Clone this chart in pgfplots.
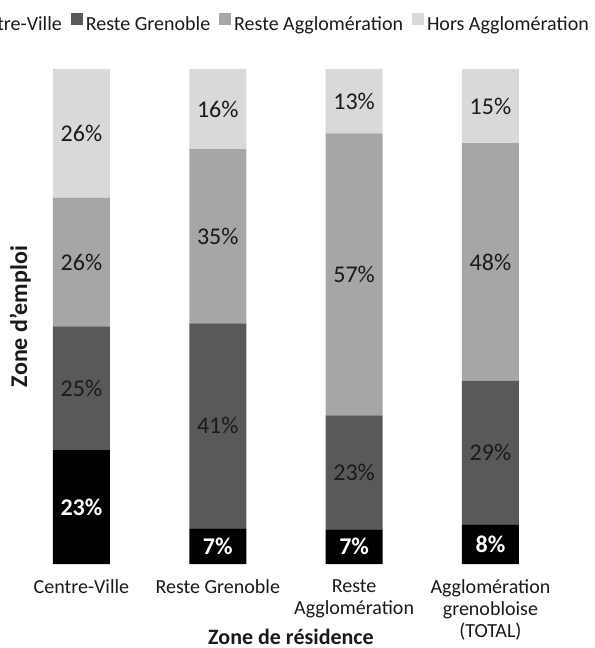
\documentclass[border=0pt]{standalone}
\usepackage{pgfplots}
\pgfplotsset{compat=1.18}
\usepackage{pgfplotstable}
\usepackage{fontspec}
\setmainfont{Carlito}
\definecolor{cCV}{HTML}{000000}
\definecolor{cRG}{HTML}{595959}
\definecolor{cRA}{HTML}{A6A6A6}
\definecolor{cHA}{HTML}{D9D9D9}
\definecolor{txt}{HTML}{1A1A1A}
\pgfplotstableread{
x cv rg ra ha
0 23 25 26 26
1 7.2 41.4 35.2 16.2
2 7 23 57 13
3 8 29 48 15
}\data
\pgfplotsset{
  seglabel/.style={
    nodes near coords={\pgfmathprintnumber[fixed,precision=0,assume math mode=true]{\pgfplotspointmeta}\%},
    every node near coord/.append style={anchor=center,
      font=\fontsize{24bp}{28bp}\selectfont, text=txt, inner sep=0pt},
  },
  sq legend/.style={legend image code/.code={\fill[##1] (0bp,-1bp) rectangle (12bp,11bp);}},
}
\begin{document}
\begin{tikzpicture}
\begin{axis}[
  name=ax,
  scale only axis,
  width=545.3bp, height=495bp,
  ybar stacked,
  bar width=57bp,
  xmin=-0.5, xmax=3.5, ymin=0, ymax=100,
  axis line style={draw=none},
  major tick length=0pt,
  ytick=\empty,
  xtick={0,1,2,3},
  xticklabels={Centre-Ville, Reste Grenoble, {Reste\\Agglomération}, {Agglomération\\grenobloise\\(TOTAL)}},
  xticklabel style={align=center, font=\fontsize{20bp}{22bp}\selectfont, text=txt, anchor=north, yshift=-12bp},
  xlabel={Zone de résidence},
  xlabel style={font=\fontsize{22bp}{24bp}\selectfont\bfseries, text=txt, at={(axis description cs:0.5,0)}, anchor=base, xshift=5bp, yshift=-80.5bp},
  ylabel={Zone d'emploi},
  ylabel style={font=\fontsize{24bp}{26bp}\selectfont\bfseries, text=txt, at={(axis description cs:0.0130,0.5)}, anchor=center},
  legend columns=4,
  legend style={draw=none, fill=none, at={(axis description cs:1.0576,1.0919)}, anchor=east,
    font=\fontsize{20bp}{22bp}\selectfont, text=txt, inner sep=0pt,
    nodes={inner xsep=1bp},
    /tikz/every odd column/.append style={column sep=2bp},
    /tikz/every even column/.append style={column sep=8bp}},
]
\addplot[fill=cCV, draw=none, sq legend, seglabel,
  every node near coord/.append style={text=white, font=\fontsize{24bp}{28bp}\selectfont\bfseries}]
  table[x=x, y=cv, meta=cv] {\data};
\addlegendentry{Centre-Ville}
\addplot[fill=cRG, draw=none, sq legend, seglabel]
  table[x=x, y=rg, meta=rg] {\data};
\addlegendentry{Reste Grenoble}
\addplot[fill=cRA, draw=none, sq legend, seglabel]
  table[x=x, y=ra, meta=ra] {\data};
\addlegendentry{Reste Agglomération}
\addplot[fill=cHA, draw=none, sq legend, seglabel]
  table[x=x, y=ha, meta=ha] {\data};
\addlegendentry{Hors Agglomération}
\end{axis}
\pgfresetboundingbox
\path[use as bounding box] ([xshift=-13.3bp,yshift=-84bp]ax.south west) rectangle ([xshift=36.3bp,yshift=69bp]ax.north east);
\end{tikzpicture}
\end{document}
